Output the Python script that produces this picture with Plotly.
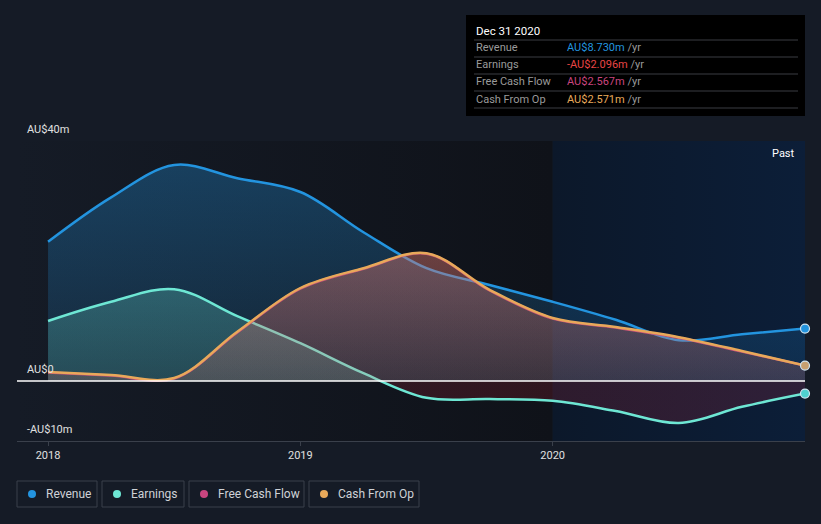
import plotly.graph_objects as go

# ---- data (AU$ millions), quarterly points ----
x_years = [2018.0, 2018.25, 2018.5, 2018.75, 2019.0, 2019.25, 2019.5,
           2019.75, 2020.0, 2020.25, 2020.5, 2020.75, 2021.0]
revenue = [23.2, 30.6, 36.0, 33.8, 31.5, 24.8, 18.8, 16.0, 13.2, 10.2, 6.8, 7.8, 8.73]
earnings = [10.0, 13.2, 15.3, 10.8, 6.3, 1.3, -2.8, -3.0, -3.3, -5.0, -7.0, -4.3, -2.096]
free_cash_flow = [1.4, 0.9, 0.4, 8.1, 15.4, 18.7, 21.2, 15.1, 10.4, 8.9, 7.2, 4.9, 2.567]
cash_from_op = [1.5, 1.0, 0.5, 8.2, 15.5, 18.8, 21.3, 15.2, 10.5, 9.0, 7.3, 5.0, 2.571]

tick_vals = [2018, 2019, 2020]
tick_text = ["2018", "2019", "2020"]
y_labels = [(40, "AU$40m"), (0, "AU$0"), (-10, "-AU$10m")]

tooltip_title = "Dec 31 2020"
tooltip_rows = [
    ("Revenue", "AU$8.730m", "#2394df"),
    ("Earnings", "-AU$2.096m", "#e84545"),
    ("Free Cash Flow", "AU$2.567m", "#c9457f"),
    ("Cash From Op", "AU$2.571m", "#e8a95a"),
]
legend_items = [("Revenue", "#2394df"), ("Earnings", "#6ee7d4"),
                ("Free Cash Flow", "#c9457f"), ("Cash From Op", "#e8a95a")]

# ---- layout geometry helpers (pixels -> paper) ----
W, H = 821, 524
L, R, T, B = 17, 805, 141, 441
def px(x):
    return (x - L) / (R - L)
def py(y):
    return (B - y) / (B - T)

BG = "#151b26"
FONT = "Roboto"
Y_MIN, Y_MAX = -10, 40
X_MIN = 2018.0 - (48 - L) / 252.0
X_PAST = 2020.0
X_MAX = x_years[-1]

fig = go.Figure()

# background gradients (left darkening zone and "Past" zone)
fig.add_trace(go.Scatter(
    x=[X_MIN, X_PAST, X_PAST, X_MIN, X_MIN], y=[Y_MIN, Y_MIN, Y_MAX, Y_MAX, Y_MIN],
    mode="none", fill="toself",
    fillgradient=dict(type="horizontal", start=X_MIN, stop=X_PAST,
                      colorscale=[[0, "rgba(21,27,38,1)"], [1, "rgba(15,18,25,1)"]]),
    hoverinfo="skip", showlegend=False))
fig.add_trace(go.Scatter(
    x=[X_PAST, X_MAX, X_MAX, X_PAST, X_PAST], y=[Y_MIN, Y_MIN, Y_MAX, Y_MAX, Y_MIN],
    mode="none", fill="toself",
    fillgradient=dict(type="horizontal", start=X_PAST, stop=X_MAX,
                      colorscale=[[0, "rgba(12,24,42,1)"], [1, "rgba(12,30,56,1)"]]),
    hoverinfo="skip", showlegend=False))

def add_series(y, color, fill_top, fill_bot, lw=2.5, neg=None):
    if neg is None:
        cs = [[0, fill_bot], [1, fill_top]]
        fg = dict(type="vertical", start=0, stop=max(y), colorscale=cs)
    else:
        cut = (0 - Y_MIN) / (Y_MAX - Y_MIN)
        cs = [[0, neg], [cut - 0.001, neg], [cut, fill_bot], [1, fill_top]]
        fg = dict(type="vertical", start=Y_MIN, stop=Y_MAX, colorscale=cs)
    fig.add_trace(go.Scatter(
        x=x_years, y=y, mode="lines",
        line=dict(color=color, width=lw, shape="spline", smoothing=1.0),
        fill="tozeroy", fillgradient=fg, hoverinfo="skip", showlegend=False))

add_series(revenue, "#2394df", "rgba(35,148,223,0.32)", "rgba(35,148,223,0.12)")
add_series(earnings, "#6ee7d4", "rgba(110,231,212,0.38)", "rgba(110,231,212,0.18)",
           neg="rgba(200,40,60,0.18)")
add_series(free_cash_flow, "#c9457f", "rgba(201,69,127,0.30)", "rgba(201,69,127,0.12)")
add_series(cash_from_op, "#e8a95a", "rgba(232,169,90,0.22)", "rgba(232,169,90,0.10)")

# end markers
fig.add_trace(go.Scatter(
    x=[x_years[-1]] * 3, y=[revenue[-1], cash_from_op[-1], earnings[-1]],
    mode="markers", cliponaxis=False,
    marker=dict(size=9, color=["#2394df", "#c8a070", "#4fd0d0"],
                line=dict(color="#cfe3f0", width=1.2)),
    hoverinfo="skip", showlegend=False))

shapes = []
# zero line
shapes.append(dict(type="line", xref="paper", yref="y", x0=0, x1=1, y0=0, y1=0,
                   line=dict(color="#ffffff", width=1.5)))

annotations = []
for val, txt in y_labels:
    annotations.append(dict(xref="paper", yref="y", x=px(25), y=val, text=txt,
                            showarrow=False, xanchor="left", yanchor="bottom", yshift=3,
                            font=dict(family=FONT, size=11, color="#e0e0e0")))
annotations.append(dict(xref="paper", yref="paper", x=px(797), y=py(153), text="Past",
                        showarrow=False, xanchor="right", yanchor="middle",
                        font=dict(family=FONT, size=11, color="#ffffff")))

# tooltip box
shapes.append(dict(type="rect", xref="paper", yref="paper", x0=px(466), x1=px(805),
                   y0=py(116), y1=py(15), fillcolor="#000000", line=dict(width=0)))
for ly in [40, 57, 74, 91, 108]:
    shapes.append(dict(type="line", xref="paper", yref="paper", x0=px(474), x1=px(798),
                       y0=py(ly), y1=py(ly), line=dict(color="#3a3d42", width=1)))
annotations.append(dict(xref="paper", yref="paper", x=px(474), y=py(31), text=tooltip_title,
                        showarrow=False, xanchor="left", yanchor="middle",
                        font=dict(family=FONT, size=11.5, color="#ffffff")))
for i, (lab, val, col) in enumerate(tooltip_rows):
    yy = py(48 + 17 * i)
    annotations.append(dict(xref="paper", yref="paper", x=px(474), y=yy, text=lab,
                            showarrow=False, xanchor="left", yanchor="middle",
                            font=dict(family=FONT, size=11, color="#9a9a9a")))
    annotations.append(dict(xref="paper", yref="paper", x=px(565), y=yy,
                            text=f"<span style='color:{col}'>{val}</span> /yr",
                            showarrow=False, xanchor="left", yanchor="middle",
                            font=dict(family=FONT, size=11, color="#9a9a9a")))

# legend boxes
boxes = [(17, 97), (102, 184), (189, 304), (309, 419)]
for (x0, x1), (name, col) in zip(boxes, legend_items):
    shapes.append(dict(type="rect", xref="paper", yref="paper", x0=px(x0), x1=px(x1),
                       y0=py(507), y1=py(481), line=dict(color="#3a404b", width=1),
                       fillcolor="rgba(0,0,0,0)"))
    cx = x0 + 15
    shapes.append(dict(type="circle", xref="paper", yref="paper",
                       x0=px(cx - 4), x1=px(cx + 4), y0=py(498), y1=py(490),
                       fillcolor=col, line=dict(width=0)))
    annotations.append(dict(xref="paper", yref="paper", x=px(cx + 12), y=py(494), text=name,
                            showarrow=False, xanchor="left", yanchor="middle",
                            font=dict(family=FONT, size=12, color="#cfd2d6")))

fig.update_layout(
    width=W, height=H, margin=dict(l=L, r=W - R, t=T, b=H - B),
    paper_bgcolor=BG, plot_bgcolor=BG,
    shapes=shapes, annotations=annotations, showlegend=False,
    font=dict(family=FONT, color="#e0e0e0"),
    xaxis=dict(range=[X_MIN, X_MAX], tickvals=tick_vals, ticktext=tick_text,
               showgrid=False, zeroline=False, showline=True, linecolor="#3a404b", linewidth=1,
               ticks="outside", ticklen=4, tickcolor="#3a404b",
               tickfont=dict(family=FONT, size=11, color="#e0e0e0"), fixedrange=True),
    yaxis=dict(range=[Y_MIN, Y_MAX], tickvals=[20, 40], showticklabels=False, showgrid=True,
               gridcolor="#2c323d", gridwidth=1, zeroline=False, fixedrange=True,
               layer="above traces"),
)

fig.write_html("out.html", config={"displayModeBar": False},
               post_script="document.body.style.margin='0';document.body.style.background='#151b26';")
